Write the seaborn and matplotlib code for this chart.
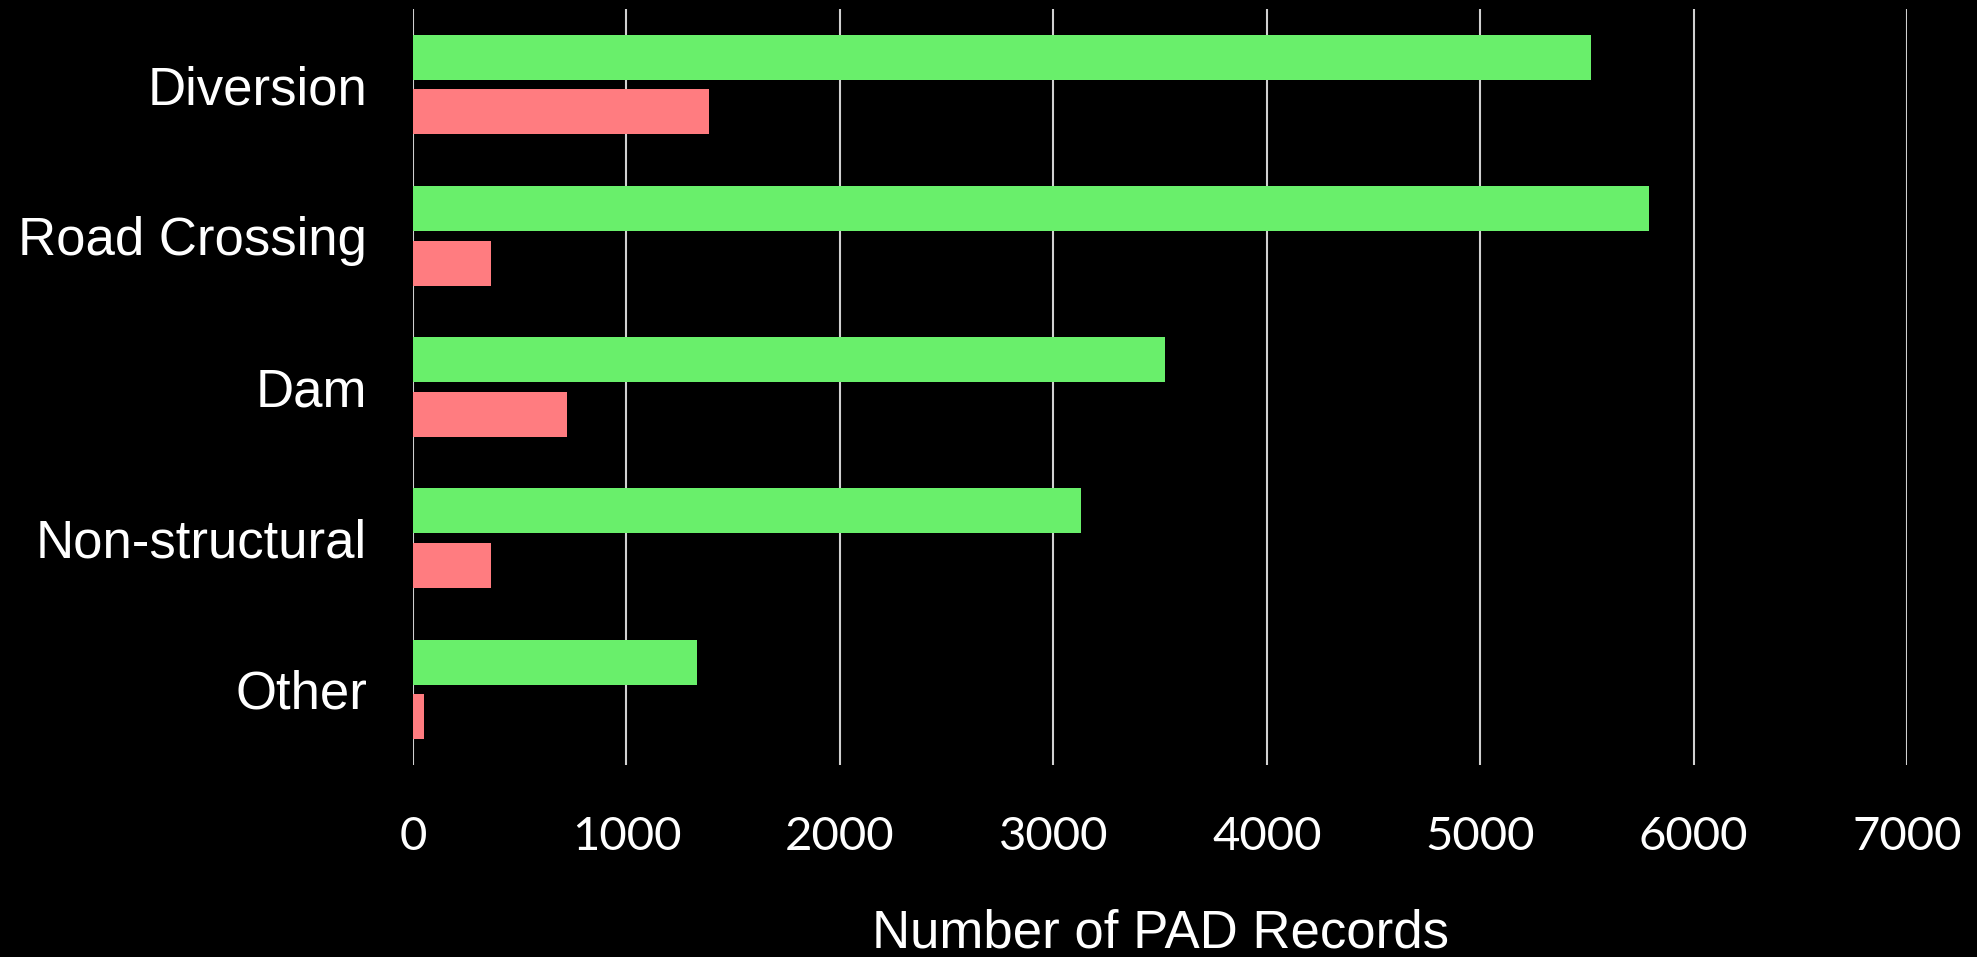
import pandas as pd
import seaborn as sns
import matplotlib.pyplot as plt

# Data
categories = ['Diversion', 'Road Crossing', 'Dam', 'Non-structural', 'Other']
green_vals = [5520, 5790, 3525, 3130, 1330]
red_vals = [1388, 365, 720, 365, 50]
x_ticks = [0, 1000, 2000, 3000, 4000, 5000, 6000, 7000]

green = '#69EF6B'
red = '#FF7C80'

df = pd.DataFrame({
    'category': categories * 2,
    'records': green_vals + red_vals,
    'series': ['green'] * len(categories) + ['red'] * len(categories),
})

sns.set_style('dark')
plt.rcParams['font.family'] = ['Liberation Sans', 'DejaVu Sans']

fig = plt.figure(figsize=(19.77, 9.57), dpi=100, facecolor='black')
ax = fig.add_axes([0.2089, 0.2006, 0.7557, 0.79])
ax.set_facecolor('black')

sns.barplot(data=df, x='records', y='category', hue='series', order=categories,
            hue_order=['green', 'red'], palette={'green': green, 'red': red},
            orient='h', width=0.722, gap=0.175, saturation=1, legend=False,
            ax=ax, edgecolor='none', linewidth=0)

ax.set_xlim(0, 7000)
ax.set_xticks(x_ticks)
ax.set_xticklabels([str(t) for t in x_ticks], family='Lato', fontsize=34, color='white')
ax.tick_params(axis='x', length=0, pad=37)
ax.tick_params(axis='y', length=0, pad=33, labelsize=38, labelcolor='white')
ax.grid(axis='x', color='#d0d0d0', linewidth=1.5)
ax.grid(axis='y', visible=False)
ax.set_axisbelow(True)
for s in ax.spines.values():
    s.set_visible(False)

ax.set_ylabel('')
ax.set_xlabel('Number of PAD Records', fontsize=38, color='white')
# label sits close to the bottom edge, as in the reference
ax.xaxis.label.set_va('baseline')
ax.xaxis.set_label_coords(0.5, -0.241)

plt.savefig('out.png', dpi=100, facecolor='black')
plt.close()
